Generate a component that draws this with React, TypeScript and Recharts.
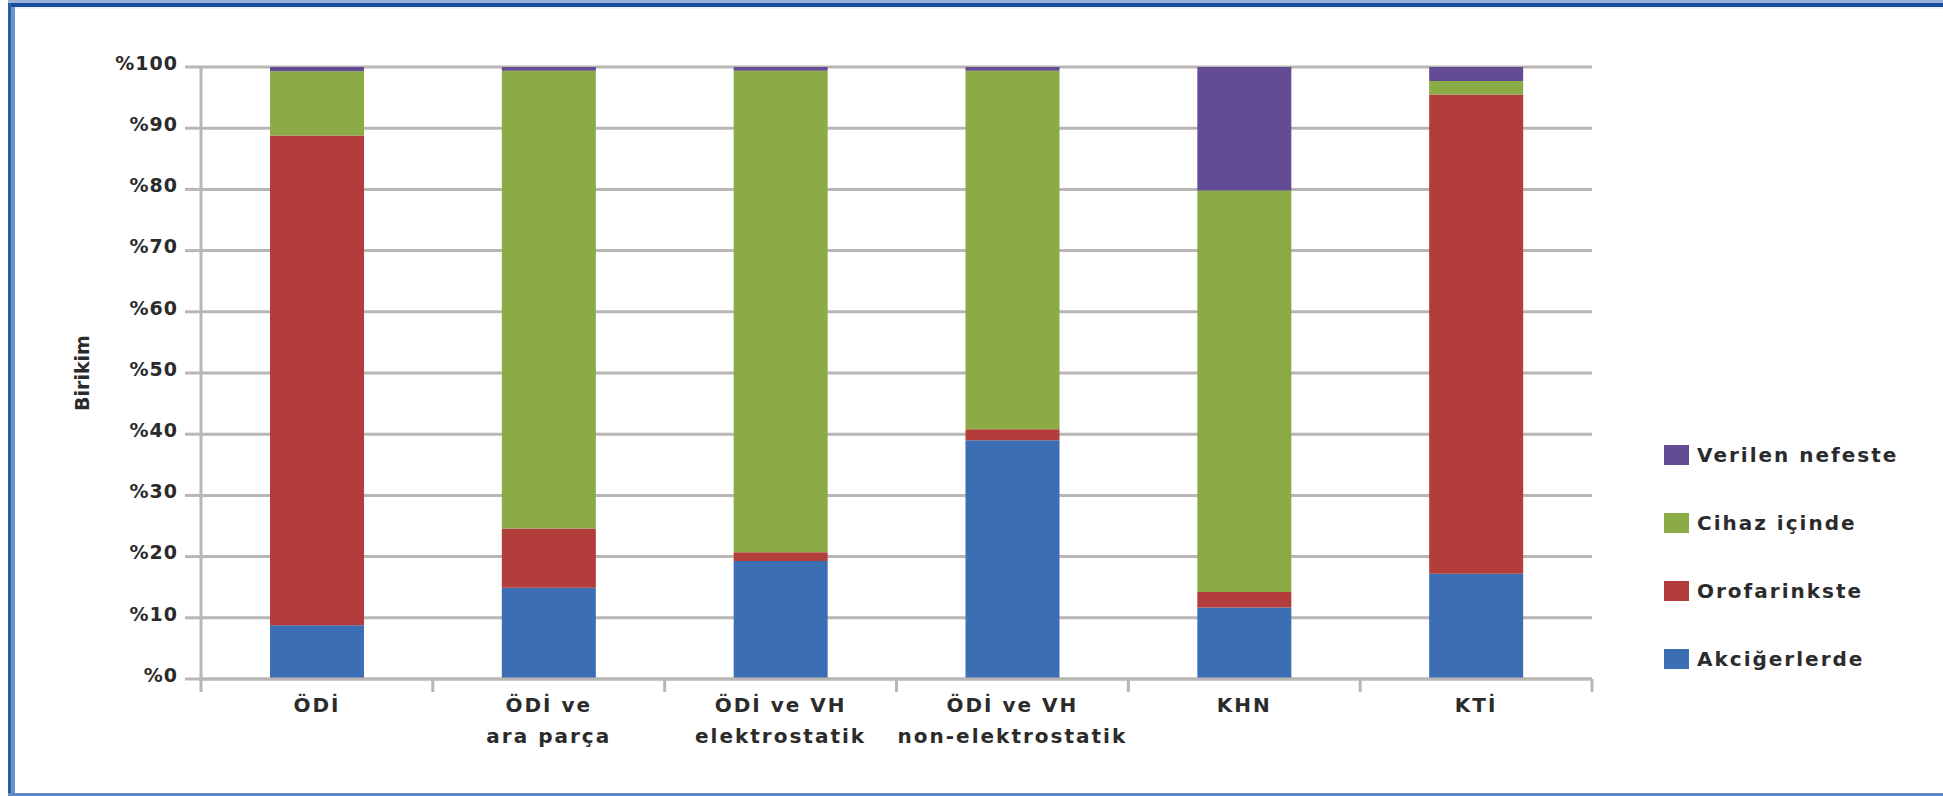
import React from 'react';
import {
  BarChart,
  Bar,
  XAxis,
  YAxis,
  CartesianGrid,
} from 'recharts';

// categories (line breaks split the axis labels onto two rows)
const categories = [
  'ÖDİ',
  'ÖDİ ve\nara parça',
  'ÖDİ ve VH\nelektrostatik',
  'ÖDİ ve VH\nnon-elektrostatik',
  'KHN',
  'KTİ',
];

// share of the dose (%) per region, stacked bottom to top
const akcigerlerde = [8.8, 14.9, 19.3, 39.0, 11.7, 17.2];
const orofarinkste = [80.0, 9.7, 1.4, 1.8, 2.5, 78.3];
const cihazIcinde = [10.5, 74.8, 78.7, 58.6, 65.6, 2.2];
const verilenNefeste = [0.7, 0.6, 0.6, 0.6, 20.2, 2.3];

const yTicks = [0, 10, 20, 30, 40, 50, 60, 70, 80, 90, 100];

const series = [
  { key: 'akcigerlerde', name: 'Akciğerlerde', color: '#3b6eb3' },
  { key: 'orofarinkste', name: 'Orofarinkste', color: '#b33d3b' },
  { key: 'cihazIcinde', name: 'Cihaz içinde', color: '#8aab45' },
  { key: 'verilenNefeste', name: 'Verilen nefeste', color: '#634c93' },
];

const data = categories.map((name, i) => ({
  name,
  akcigerlerde: akcigerlerde[i],
  orofarinkste: orofarinkste[i],
  cihazIcinde: cihazIcinde[i],
  verilenNefeste: verilenNefeste[i],
}));

const W = 1943;
const H = 796;
const FONT = '"DejaVu Sans", sans-serif';
const TEXT = '#2b2b2b';
const AXIS = '#bab6b4';
const PLOT_LEFT = 201;
const PLOT_RIGHT = 1592;

const XTick = (props: any) => {
  const { x, y, payload, index } = props;
  const half = payload.offset || (PLOT_RIGHT - PLOT_LEFT) / categories.length / 2;
  const lines = String(payload.value).split('\n');
  return (
    <g>
      {index === 0 && (
        <line x1={x - half} x2={x - half} y1={y} y2={y + 13} stroke={AXIS} strokeWidth={3} />
      )}
      <line x1={x + half} x2={x + half} y1={y} y2={y + 13} stroke={AXIS} strokeWidth={3} />
      <text
        x={x}
        y={y + 33}
        textAnchor="middle"
        fill={TEXT}
        fontFamily={FONT}
        fontWeight="bold"
        fontSize={20}
        letterSpacing={2}
      >
        {lines.map((l, i) => (
          <tspan key={i} x={x} dy={i === 0 ? 0 : 31}>
            {l}
          </tspan>
        ))}
      </text>
    </g>
  );
};

const YTick = (props: any) => {
  const { x, y, payload } = props;
  return (
    <text
      x={x}
      y={y - 4}
      dy="0.355em"
      textAnchor="end"
      fill={TEXT}
      fontFamily={FONT}
      fontWeight="bold"
      fontSize={19}
      letterSpacing={1}
    >
      {'%' + payload.value}
    </text>
  );
};

const YLabel = (props: any) => {
  const { viewBox } = props;
  const cy = viewBox.y + viewBox.height / 2;
  const lx = 89;
  return (
    <text
      x={lx}
      y={cy}
      transform={`rotate(-90, ${lx}, ${cy})`}
      textAnchor="middle"
      fill={TEXT}
      fontFamily={FONT}
      fontWeight="bold"
      fontSize={19}
    >
      Birikim
    </text>
  );
};

// legend, listed top to bottom in reverse stacking order
const SideLegend = () => (
  <div
    style={{
      position: 'absolute',
      left: 1664,
      top: 421,
      fontFamily: FONT,
      fontWeight: 'bold',
      fontSize: 20,
      letterSpacing: 2,
      color: TEXT,
    }}
  >
    {[...series].reverse().map((s) => (
      <div key={s.key} style={{ display: 'flex', alignItems: 'center', height: 68 }}>
        <span style={{ width: 25, height: 20, background: s.color, marginRight: 8, display: 'inline-block' }} />
        <span>{s.name}</span>
      </div>
    ))}
  </div>
);

export default function App() {
  return (
    <div style={{ position: 'absolute', left: 0, top: 0, width: W, height: H, background: '#fff' }}>
      {/* outer frame */}
      <div style={{ position: 'absolute', left: 8, top: 0, width: W - 8, height: 3, background: '#9ab1d5' }} />
      <div style={{ position: 'absolute', left: 8, top: 3, width: W - 8, height: 4, background: '#1a4ca0' }} />
      <div style={{ position: 'absolute', left: 8, top: 7, width: W - 8, height: 2, background: '#eef2f9' }} />
      <div style={{ position: 'absolute', left: 8, top: 3, width: 3, height: H - 3, background: '#2d5ca8' }} />
      <div style={{ position: 'absolute', left: 11, top: 7, width: 4, height: H - 7, background: '#6b93cd' }} />
      <div style={{ position: 'absolute', left: 8, top: H - 3, width: W - 8, height: 3, background: '#5f88c4' }} />

      <div style={{ position: 'absolute', left: 0, top: 0 }}>
        <BarChart
          width={W}
          height={H}
          data={data}
          margin={{ top: 67, right: W - PLOT_RIGHT, bottom: 0, left: 0 }}
          barSize={94}
        >
          <CartesianGrid vertical={false} stroke={AXIS} strokeWidth={3} />
          <XAxis
            dataKey="name"
            height={117}
            axisLine={{ stroke: AXIS, strokeWidth: 3 }}
            tickLine={false}
            tickSize={0}
            tickMargin={0}
            interval={0}
            tick={<XTick />}
          />
          <YAxis
            width={PLOT_LEFT}
            domain={[0, 100]}
            ticks={yTicks}
            interval={0}
            axisLine={{ stroke: AXIS, strokeWidth: 3 }}
            tickLine={{ stroke: AXIS, strokeWidth: 3 }}
            tickSize={16}
            tickMargin={7}
            tick={<YTick />}
            label={<YLabel />}
          />
          {series.map((s) => (
            <Bar
              key={s.key}
              dataKey={s.key}
              name={s.name}
              stackId="a"
              fill={s.color}
              isAnimationActive={false}
            />
          ))}
        </BarChart>
      </div>
      <SideLegend />
    </div>
  );
}
